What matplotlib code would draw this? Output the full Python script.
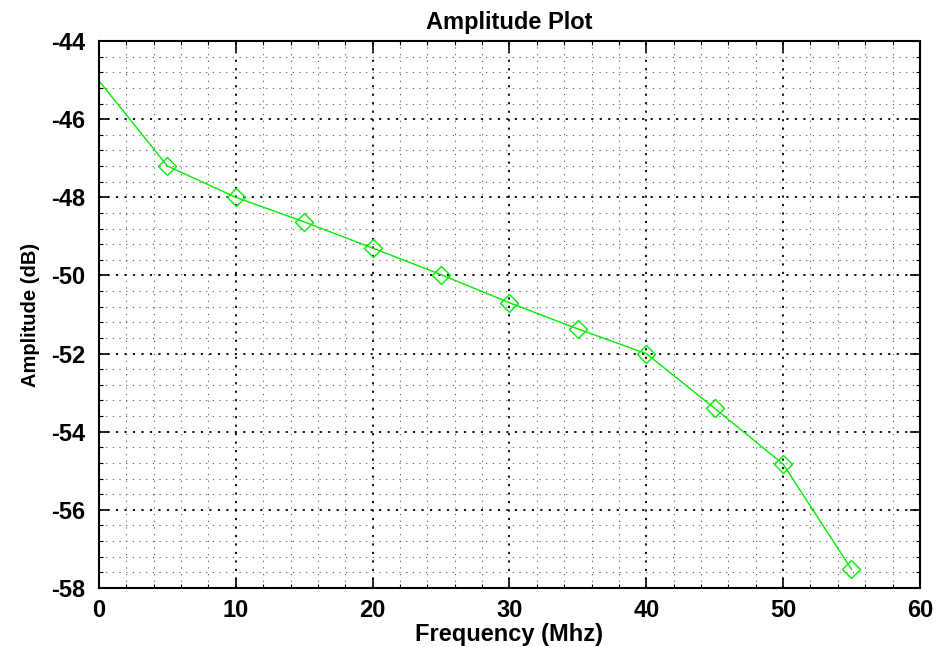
import matplotlib
matplotlib.use("Agg")
import matplotlib.pyplot as plt
from matplotlib.ticker import MultipleLocator

# values
freq_mhz = [0, 5, 10, 15, 20, 25, 30, 35, 40, 45, 50, 55]
amp_db = [-45.02, -47.2, -48.0, -48.63, -49.3, -49.98, -50.7, -51.37, -52.0, -53.4, -54.83, -57.52]

plt.rcParams["font.family"] = ["Liberation Sans", "DejaVu Sans"]
plt.rcParams["font.weight"] = "bold"
plt.rcParams["axes.unicode_minus"] = False

fig = plt.figure(figsize=(9.36, 6.47), dpi=100)
ax = fig.add_axes([0.1058, 0.0912, 0.877, 0.8454])

ax.plot(freq_mhz, amp_db, color="#00ee00", lw=1.0, marker="D", ms=9,
        mfc="none", mec="#00ee00", mew=1.0, markevery=list(range(1, len(freq_mhz))))

ax.set_xlim(0, 60)
ax.set_ylim(-58, -44)
ax.xaxis.set_major_locator(MultipleLocator(10))
ax.xaxis.set_minor_locator(MultipleLocator(2))
ax.yaxis.set_major_locator(MultipleLocator(2))
ax.yaxis.set_minor_locator(MultipleLocator(0.4))

ax.grid(which="major", color="black", ls=(0, (1.2, 3.5)), lw=1.3)
ax.grid(which="minor", color="#555555", ls=(0, (1, 5)), lw=0.8)

ax.tick_params(which="both", direction="in", top=True, right=True)
ax.tick_params(which="major", length=7, width=1.2, labelsize=17)
ax.tick_params(axis="x", which="major", pad=8)
ax.tick_params(axis="y", which="major", pad=10)
ax.tick_params(which="minor", length=3, width=0.8)
for lab in ax.get_xticklabels() + ax.get_yticklabels():
    lab.set_fontweight("bold")
for s in ax.spines.values():
    s.set_linewidth(1.5)

ax.set_xlabel("Frequency (Mhz)", fontsize=17, fontweight="bold", labelpad=1)
ax.set_ylabel("Amplitude (dB)", fontsize=14.5, fontweight="bold", labelpad=8)
ax.set_title("Amplitude Plot", fontsize=17, fontweight="bold", pad=9)

fig.savefig("out.png", dpi=100)
